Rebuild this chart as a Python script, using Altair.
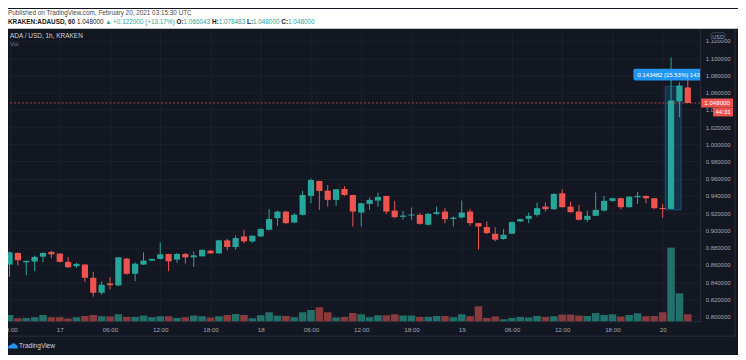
import altair as alt
import pandas as pd

# ---------------- data ----------------
# hourly candles, hour = hours since 2021-02-17 00:00 UTC (16th 18:00 .. 20th 03:00)
hour = list(range(-6, 76))
open_ = [0.8604, 0.8739, 0.8630, 0.8639, 0.8696, 0.8751, 0.8731, 0.8635, 0.8584, 0.8604,
         0.8450, 0.8277, 0.8385, 0.8361, 0.8673, 0.8497, 0.8604, 0.8650, 0.8670, 0.8727,
         0.8662, 0.8727, 0.8688, 0.8700, 0.8766, 0.8734, 0.8885, 0.8808, 0.8931, 0.8873,
         0.8931, 0.9008, 0.9143, 0.9219, 0.9092, 0.9181, 0.9401, 0.9574, 0.9462, 0.9355,
         0.9482, 0.9412, 0.9208, 0.9308, 0.9347, 0.9401, 0.9231, 0.9158, 0.9173, 0.9181,
         0.9066, 0.9193, 0.9219, 0.9135, 0.9150, 0.9219, 0.9085, 0.9039, 0.8962, 0.8901,
         0.8962, 0.9104, 0.9135, 0.9181, 0.9277, 0.9247, 0.9432, 0.9277, 0.9219, 0.9124,
         0.9170, 0.9231, 0.9343, 0.9374, 0.9270, 0.9386, 0.9401, 0.9374, 0.9259, 0.9250,
         1.0498, 1.066043]
high = [0.8758, 0.8745, 0.8647, 0.8708, 0.8746, 0.8762, 0.8735, 0.8693, 0.8624, 0.8612,
        0.8520, 0.8411, 0.8457, 0.8690, 0.8681, 0.8630, 0.8746, 0.8673, 0.8861, 0.8730,
        0.8739, 0.8739, 0.8758, 0.8781, 0.8769, 0.8893, 0.8901, 0.8942, 0.9008, 0.8942,
        0.9023, 0.9247, 0.9231, 0.9227, 0.9201, 0.9462, 0.9605, 0.9578, 0.9528, 0.9482,
        0.9516, 0.9416, 0.9320, 0.9381, 0.9439, 0.9405, 0.9343, 0.9227, 0.9266, 0.9201,
        0.9201, 0.9277, 0.9259, 0.9162, 0.9347, 0.9247, 0.9089, 0.9104, 0.9039, 0.9016,
        0.9104, 0.9139, 0.9208, 0.9324, 0.9324, 0.9432, 0.9478, 0.9335, 0.9297, 0.9231,
        0.9443, 0.9401, 0.9381, 0.9381, 0.9397, 0.9447, 0.9405, 0.9378, 0.9308, 1.1009,
        1.0721, 1.078483]
low = [0.8462, 0.8596, 0.8480, 0.8527, 0.8630, 0.8677, 0.8630, 0.8566, 0.8566, 0.8404,
       0.8231, 0.8254, 0.8315, 0.8353, 0.8488, 0.8411, 0.8600, 0.8642, 0.8662, 0.8527,
       0.8624, 0.8615, 0.8577, 0.8696, 0.8731, 0.8727, 0.8769, 0.8777, 0.8850, 0.8855,
       0.8924, 0.9000, 0.9054, 0.9074, 0.9085, 0.9173, 0.9316, 0.9239, 0.9277, 0.9285,
       0.9401, 0.9046, 0.9046, 0.9239, 0.9277, 0.9193, 0.9143, 0.9124, 0.9124, 0.9066,
       0.9058, 0.9181, 0.9085, 0.9046, 0.9143, 0.9054, 0.8777, 0.8958, 0.8873, 0.8893,
       0.8958, 0.9100, 0.9085, 0.9162, 0.9219, 0.9239, 0.9266, 0.9208, 0.9116, 0.9097,
       0.9170, 0.9219, 0.9335, 0.9247, 0.9266, 0.9308, 0.9316, 0.9247, 0.9147, 0.9247,
       1.0316, 1.048000]
close = [0.8746, 0.8654, 0.8647, 0.8693, 0.8739, 0.8723, 0.8635, 0.8573, 0.8612, 0.8450,
         0.8277, 0.8370, 0.8365, 0.8688, 0.8497, 0.8612, 0.8650, 0.8670, 0.8723, 0.8642,
         0.8727, 0.8688, 0.8711, 0.8774, 0.8734, 0.8885, 0.8808, 0.8912, 0.8873, 0.8939,
         0.9016, 0.9132, 0.9219, 0.9085, 0.9181, 0.9412, 0.9585, 0.9458, 0.9355, 0.9478,
         0.9412, 0.9219, 0.9316, 0.9355, 0.9389, 0.9219, 0.9155, 0.9173, 0.9185, 0.9077,
         0.9193, 0.9212, 0.9132, 0.9150, 0.9208, 0.9085, 0.9046, 0.8970, 0.8893, 0.8950,
         0.9097, 0.9132, 0.9170, 0.9259, 0.9247, 0.9424, 0.9270, 0.9212, 0.9124, 0.9170,
         0.9239, 0.9343, 0.9374, 0.9270, 0.9393, 0.9401, 0.9374, 0.9259, 0.9250, 1.0509,
         1.0683, 1.048000]
# volume, millions of ADA (relative bar heights)
volume = [6.3, 3.0, 3.3, 4.0, 6.3, 4.0, 4.0, 2.7, 4.0, 5.3,
          6.3, 5.0, 4.7, 7.0, 4.3, 4.3, 5.7, 4.0, 5.0, 5.0,
          3.3, 4.0, 5.7, 5.0, 3.7, 5.0, 6.3, 7.3, 6.3, 3.0,
          6.0, 9.0, 5.7, 5.3, 4.0, 9.0, 11.3, 14.0, 9.0, 3.7,
          4.3, 8.3, 7.0, 4.0, 6.0, 6.0, 7.0, 5.7, 5.7, 4.3,
          4.3, 5.3, 5.3, 4.0, 7.0, 5.0, 15.0, 3.3, 4.7, 2.0,
          3.3, 4.3, 3.7, 5.3, 4.3, 5.0, 6.7, 6.7, 5.7, 5.3,
          8.3, 6.3, 7.0, 4.7, 6.3, 8.0, 5.0, 5.3, 9.0, 74.0,
          28.0, 7.0]

price_ticks = [0.80, 0.82, 0.84, 0.86, 0.88, 0.90, 0.92, 0.94, 0.96, 0.98,
               1.00, 1.02, 1.04, 1.06, 1.08, 1.10, 1.12]
time_ticks = [-6, 0, 6, 12, 18, 24, 30, 36, 42, 48, 54, 60, 66, 72]

last_price = 1.048
last_price_text = "1.048000"
countdown_text = "44:31"
measure_hours = [72.3, 74.2]
measure_prices = [0.92392, 1.067402]
measure_text = "0.143482 (15.53%) 143"

header1 = "Published on TradingView.com, February 20, 2021 03:15:30 UTC"
header2 = [("KRAKEN:ADAUSD, 60", "bold", "#131722"), ("1.048000", "normal", "#131722"),
           ("\u25B2", "normal", "#26a69a"), ("+0.122000 (+13.17%)", "normal", "#26a69a"),
           ("O:", "bold", "#131722"), ("1.066043", "normal", "#26a69a"),
           ("H:", "bold", "#131722"), ("1.078483", "normal", "#26a69a"),
           ("L:", "bold", "#131722"), ("1.048000", "normal", "#26a69a"),
           ("C:", "bold", "#131722"), ("1.048000", "normal", "#26a69a")]
header2_x = [0, 69.4, 97.9, 105.7, 169.4, 176.5, 205, 211.8, 240.3, 246.3, 274.8, 281.6]
legend_title = "ADA / USD, 1h, KRAKEN"

# ---------------- styling ----------------
BG = "#131722"
UP = "#26a69a"
DOWN = "#ef5350"
VOL_UP = "#22706a"
VOL_DOWN = "#8a3a3d"
GRID = "#1c202b"
BORDER = "#2a2e39"
TXT = "#a3a6af"
FONT = "Liberation Sans"

W, H = 696, 294

df = pd.DataFrame({"hour": hour, "open": open_, "high": high, "low": low,
                   "close": close, "volume": volume})
df["x0"] = df["hour"] - 0.37
df["x1"] = df["hour"] + 0.37
df["v0"] = df["hour"] - 0.45
df["v1"] = df["hour"] + 0.45
df["vzero"] = 0.0
top = df[["open", "close"]].max(axis=1)
bot = df[["open", "close"]].min(axis=1)
mid = (top + bot) / 2
small = (top - bot) < 0.0012
df["btop"] = top.where(~small, mid + 0.0006)
df["bbot"] = bot.where(~small, mid - 0.0006)

xs = alt.Scale(domain=[-6.18, 76.48], nice=False, zero=False)
ys = alt.Scale(domain=[0.7946, 1.1341], nice=False, zero=False)
vs = alt.Scale(domain=[0, 294], nice=False, zero=True)

label_expr = ("datum.value % 24 == 0 ? toString(17 + datum.value / 24) : "
              "((((datum.value % 24) + 24) % 24) < 10 ? '0' : '') + "
              "toString(((datum.value % 24) + 24) % 24) + ':00'")

xaxis = alt.Axis(values=time_ticks, labelExpr=label_expr, title=None, grid=True,
                 gridColor=GRID, domainColor=BORDER, tickSize=0, labelPadding=5,
                 labelFontSize=6.3, labelColor=TXT, labelFont=FONT,
                 labelFlush=False, labelOverlap=False)
yaxis = alt.Axis(orient="right", values=price_ticks, format=".6f", title=None,
                 grid=True, gridColor=GRID, domainColor=BORDER, tickSize=0,
                 labelPadding=5, labelFontSize=6.0, labelColor=TXT, labelFont=FONT,
                 labelFlush=False, labelOverlap=False, labelBound=False)

color_cond = alt.condition("datum.close >= datum.open", alt.value(UP), alt.value(DOWN))
vol_cond = alt.condition("datum.close >= datum.open", alt.value(VOL_UP), alt.value(VOL_DOWN))

base = alt.Chart(df)

volume_layer = base.mark_rect().encode(
    x=alt.X("v0:Q", scale=xs, axis=xaxis),
    x2="v1:Q",
    y=alt.Y("volume:Q", scale=vs, axis=None),
    y2="vzero:Q",
    color=vol_cond,
)

mdf = pd.DataFrame({"h0": [measure_hours[0]], "h1": [measure_hours[1]],
                    "p0": [measure_prices[0]], "p1": [measure_prices[1]]})
measure_box = alt.Chart(mdf).mark_rect(fill="#2196f3", fillOpacity=0.2, stroke="#2196f3",
                                       strokeOpacity=0.35, strokeWidth=1).encode(
    x=alt.X("h0:Q", scale=xs, axis=xaxis), x2="h1:Q",
    y=alt.Y("p0:Q", scale=ys, axis=yaxis), y2="p1:Q")

wicks = base.mark_rule(strokeWidth=1).encode(
    x=alt.X("hour:Q", scale=xs, axis=xaxis),
    y=alt.Y("low:Q", scale=ys, axis=yaxis),
    y2="high:Q",
    color=color_cond,
)
bodies = base.mark_rect().encode(
    x=alt.X("x0:Q", scale=xs, axis=xaxis), x2="x1:Q",
    y=alt.Y("bbot:Q", scale=ys, axis=yaxis), y2="btop:Q",
    color=color_cond,
)

pdf = pd.DataFrame({"price": [last_price],
                    "t0": [last_price + 0.0053], "t1": [last_price - 0.0053],
                    "c1": [last_price - 0.0156],
                    "cmid": [last_price - 0.0104],
                    "txt": [last_price_text], "cd": [countdown_text]})
price_line = alt.Chart(pdf).mark_rule(color=DOWN, strokeDash=[2, 2], strokeWidth=1,
                                      opacity=0.7).encode(
    y=alt.Y("price:Q", scale=ys, axis=yaxis))
tag_rect = alt.Chart(pdf).mark_rect(color=DOWN).encode(
    x=alt.value(697), x2=alt.value(729), y=alt.Y("t0:Q", scale=ys, axis=yaxis), y2="t1:Q")
tag_text = alt.Chart(pdf).mark_text(color="white", fontSize=6.2, font=FONT,
                                    baseline="middle", align="center").encode(
    x=alt.value(713), y=alt.Y("price:Q", scale=ys, axis=yaxis), text="txt:N")
cd_rect = alt.Chart(pdf).mark_rect(color=DOWN).encode(
    x=alt.value(709), x2=alt.value(729), y=alt.Y("t1:Q", scale=ys, axis=yaxis), y2="c1:Q")
cd_text = alt.Chart(pdf).mark_text(color="white", fontSize=6.2, font=FONT,
                                   baseline="middle", align="center").encode(
    x=alt.value(719), y=alt.Y("cmid:Q", scale=ys, axis=yaxis), text="cd:N")

ldf = pd.DataFrame({"h0": [68.5], "h1": [80.0], "h_text": [69.0],
                    "p": [1.0809], "p0": [1.0809 - 0.0068], "p1": [1.0809 + 0.0068],
                    "txt": [measure_text]})
mlabel_rect = alt.Chart(ldf).mark_rect(color="#2196f3", clip=True, cornerRadius=2).encode(
    x=alt.X("h0:Q", scale=xs, axis=xaxis), x2="h1:Q",
    y=alt.Y("p0:Q", scale=ys, axis=yaxis), y2="p1:Q")
mlabel_text = alt.Chart(ldf).mark_text(color="white", fontSize=6.0, font=FONT, clip=True,
                                       align="left", baseline="middle").encode(
    x=alt.X("h_text:Q", scale=xs, axis=xaxis), y=alt.Y("p:Q", scale=ys, axis=yaxis),
    text="txt:N")

price_layer = alt.layer(measure_box, wicks, bodies, price_line, mlabel_rect, mlabel_text,
                        tag_rect, tag_text, cd_rect, cd_text)

one = pd.DataFrame({"k": [0]})


def txt(text, px, py, size, color, weight="normal", align="left"):
    return alt.Chart(one).mark_text(text=text, align=align, baseline="middle",
                                    fontSize=size, color=color, fontWeight=weight,
                                    font=FONT).encode(x=alt.value(px), y=alt.value(py))


overlays = [
    alt.Chart(one).mark_rect(color="white").encode(
        x=alt.value(0), x2=alt.value(734), y=alt.value(-20), y2=alt.value(0)),
    alt.Chart(one).mark_rule(color=BORDER, strokeWidth=1).encode(
        x=alt.value(0), x2=alt.value(731), y=alt.value(309)),
    alt.Chart(one).mark_rule(color=BORDER, strokeWidth=1).encode(
        x=alt.value(731), y=alt.value(0), y2=alt.value(309)),
    alt.Chart(one).mark_rect(fill=BG, stroke="#50535e", strokeWidth=0.8, cornerRadius=2).encode(
        x=alt.value(707), x2=alt.value(721), y=alt.value(4), y2=alt.value(11.5)),
    txt("USD", 714, 7.8, 5.5, TXT, align="center"),
    txt(header1, 0, -16, 6.4, "#4a4a4a"),
    txt(legend_title, 2, 7, 6.5, "#d1d4dc"),
    txt("Vol", 2, 15.5, 6.0, "#787b86"),
    alt.Chart(one).mark_point(
        shape="M-1 0.5 C-1.1 0 -0.7 -0.3 -0.4 -0.2 C-0.3 -0.7 0.4 -0.8 0.6 -0.3 C1 -0.3 1.1 0.5 0.8 0.5 Z",
        filled=True, size=90, color="#2196f3", opacity=1).encode(x=alt.value(5), y=alt.value(319)),
    txt("TradingView", 11, 319, 6.6, "#d1d4dc"),
]
for (t, weight, col), px in zip(header2, header2_x):
    overlays.append(txt(t, px, -7.3, 6.4, col, weight=weight))

chart = alt.layer(volume_layer, price_layer, *overlays).resolve_scale(
    y="independent"
).properties(
    width=W, height=H,
    autosize=alt.AutoSizeParams(type="none"),
    padding={"left": 0, "top": 20, "right": 38, "bottom": 33},
).configure(background=BG, font=FONT).configure_view(
    strokeWidth=0
).configure_axis(labelOverlap=False)

chart.save("out.html", embed_options={"renderer": "svg", "actions": False})
